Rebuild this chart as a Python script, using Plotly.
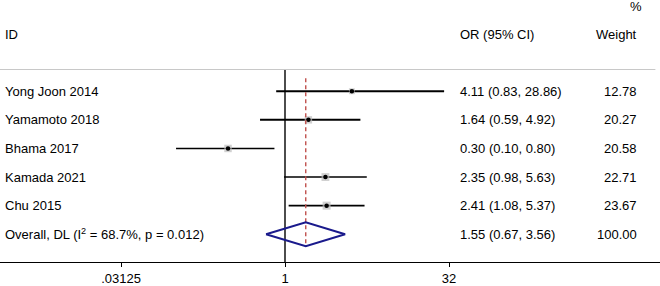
import plotly.graph_objects as go
import numpy as np

studies = ["Yong Joon 2014", "Yamamoto 2018", "Bhama 2017", "Kamada 2021", "Chu 2015"]
or_vals = [4.11, 1.64, 0.30, 2.35, 2.41]
ci_lo = [0.83, 0.59, 0.10, 0.98, 1.08]
ci_hi = [28.86, 4.92, 0.80, 5.63, 5.37]
weights = [12.78, 20.27, 20.58, 22.71, 23.67]
overall_label = "Overall, DL (I<sup>2</sup> = 68.7%, p = 0.012)"
overall = [1.55, 0.67, 3.56]
overall_weight = "100.00"
tick_vals = [0.03125, 1, 32]
tick_text = [".03125", "1", "32"]

FONT = "Liberation Sans, Arial, sans-serif"
FS = 13
W, H = 660, 286
fig = go.Figure()

n = len(studies)
rows = list(range(n))
ov_row = n

# CI lines
lw = [2, 2, 1.6, 1.6, 1.6]
for i in rows:
    fig.add_trace(go.Scatter(x=[ci_lo[i], ci_hi[i]], y=[i, i], mode="lines",
                             line=dict(color="black", width=lw[i]), hoverinfo="skip"))
# weight boxes
fig.add_trace(go.Scatter(x=or_vals, y=rows, mode="markers",
                         marker=dict(symbol="square", color="#bdbdbd",
                                     size=[1.65*np.sqrt(w) for w in weights], line=dict(width=0)),
                         hoverinfo="skip"))
fig.add_trace(go.Scatter(x=or_vals, y=rows, mode="markers",
                         marker=dict(symbol="circle", color="black", size=4.5),
                         hoverinfo="skip"))

# null line at 1
fig.add_trace(go.Scatter(x=[1, 1], y=[-0.76, 5.97], mode="lines",
                         line=dict(color="black", width=1.4), hoverinfo="skip"))
# overall dashed line
fig.add_trace(go.Scatter(x=[overall[0], overall[0]], y=[-0.45, ov_row + 0.42], mode="lines",
                         line=dict(color="#c0504d", width=1.4, dash="4px,3px"), hoverinfo="skip"))
# diamond
h = 0.42
fig.add_trace(go.Scatter(x=[overall[1], overall[0], overall[2], overall[0], overall[1]],
                         y=[ov_row, ov_row - h, ov_row, ov_row + h, ov_row], mode="lines",
                         line=dict(color="#1a1a8c", width=2), hoverinfo="skip"))

# separator line
fig.add_shape(type="line", xref="paper", yref="y", x0=0, x1=0.993, y0=-0.76, y1=-0.76,
              line=dict(color="#c8c8c8", width=1.2))

ann = []
def txt(x, y, s, anchor="left"):
    ann.append(dict(xref="paper", yref="y", x=x, y=y, text=s, showarrow=False,
                    xanchor=anchor, yanchor="middle", borderpad=0,
                    font=dict(family=FONT, size=FS, color="black")))

LX = 4 / W
OX = 459 / W
WX = 638 / W
txt(LX, -2.0, "ID")
txt(OX, -2.0, "OR (95% CI)")
txt(WX, -2.0, "Weight", "right")
txt(643 / W, -2.95, "%", "right")
for i in rows:
    txt(LX, i, studies[i])
    txt(OX, i, f"{or_vals[i]:.2f} ({ci_lo[i]:.2f}, {ci_hi[i]:.2f})")
    txt(WX, i, f"{weights[i]:.2f}", "right")
txt(LX, ov_row, overall_label)
txt(OX, ov_row, f"{overall[0]:.2f} ({overall[1]:.2f}, {overall[2]:.2f})")
txt(WX, ov_row, overall_weight, "right")

px_per_dec = 164 / np.log10(32)
x0 = -285 / px_per_dec
x1 = (660 - 285) / px_per_dec

fig.update_layout(
    width=W, height=H, margin=dict(l=0, r=0, t=0, b=22),
    paper_bgcolor="white", plot_bgcolor="white", showlegend=False,
    annotations=ann,
    xaxis=dict(type="log", range=[x0, x1], tickvals=tick_vals, ticktext=tick_text,
               showgrid=False, zeroline=False, showline=True, linecolor="black", linewidth=1.4,
               ticks="outside", ticklen=4, tickcolor="black", tickwidth=1.4,
               tickfont=dict(family=FONT, size=FS, color="black")),
    yaxis=dict(range=[5.97, -3.19], visible=False, showgrid=False, zeroline=False),
)
fig.write_html("out.html")
